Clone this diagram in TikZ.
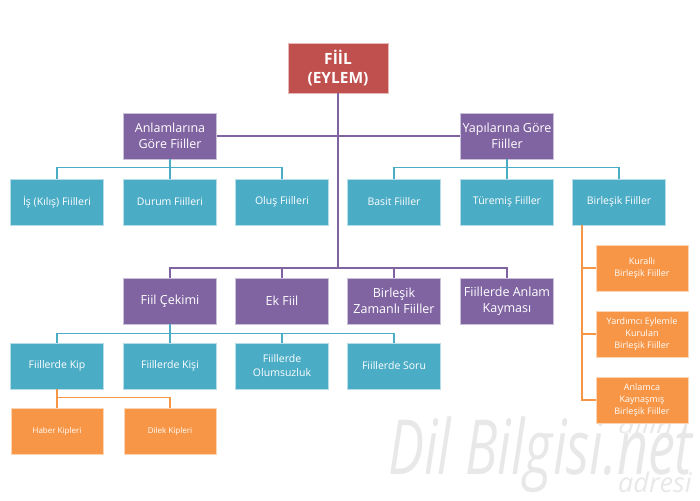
\documentclass[tikz,border=0pt]{standalone}
\usepackage{fontspec}
\setmainfont{Open Sans}
\definecolor{kirmizi}{HTML}{C0504D}
\definecolor{mor}{HTML}{8064A2}
\definecolor{mavi}{HTML}{4BACC6}
\definecolor{turuncu}{HTML}{F79646}
\begin{document}
\begin{tikzpicture}[x=1pt,y=-1pt,
	kutu/.style={minimum width=93pt,minimum height=46pt,inner sep=2pt,align=center,text=white,draw=white!60!#1,line width=0.8pt,fill=#1,font=\fontsize{10.5}{14}\selectfont},
	orta kutu/.style={kutu=mor,font=\fontsize{12.5}{16}\selectfont},
	kok/.style={kutu=kirmizi,minimum width=100pt,minimum height=50pt,font=\fontsize{15.5}{19}\selectfont\bfseries},
	kucuk/.style={kutu=turuncu,minimum width=92pt,font=\fontsize{8}{10}\selectfont},
	yan/.style={kucuk,font=\fontsize{9}{12}\selectfont},
	hat/.style={draw=#1,line width=1.6pt},
	filigran/.style={text=black!9,inner sep=0pt,font=\itshape}]
	\useasboundingbox(0,0)rectangle(700,500);
	% filigran
	\node[filigran,anchor=base west](fil)at(388,474){\fontsize{76}{78}\selectfont\scalebox{0.71}[1]{Dil Bilgisi.net}};
	\node[filigran,anchor=base west](ust)at(618,433){\fontsize{19}{21}\selectfont\scalebox{1.5}[1]{dilin}};
	\node[filigran,anchor=base west](alt)at(618,492){\fontsize{27}{29}\selectfont\scalebox{1.0}[1]{adresi}};
	% kutular
	\node[kok](fiil)at(338,68){FİİL\\(EYLEM)};
	\node[orta kutu](anl)at(170,136){Anlamlarına\\Göre Fiiller};
	\node[orta kutu](yap)at(507,136){Yapılarına Göre\\Fiiller};
	\node[kutu=mavi](is)at(57,202){İş (Kılış) Fiilleri};
	\node[kutu=mavi](durum)at(170,202){Durum Fiilleri};
	\node[kutu=mavi](olus)at(282,202){Oluş Fiilleri};
	\node[kutu=mavi](basit)at(394,202){Basit Fiiller};
	\node[kutu=mavi](tur)at(507,202){Türemiş Fiiller};
	\node[kutu=mavi](bir)at(619,202){Birleşik Fiiller};
	\node[orta kutu](cek)at(170,301){Fiil Çekimi};
	\node[orta kutu](ek)at(282,301){Ek Fiil};
	\node[orta kutu](bz)at(394,301){Birleşik\\Zamanlı Fiiller};
	\node[orta kutu](kay)at(507,301){Fiillerde Anlam\\Kayması};
	\node[kutu=mavi](kip)at(57,366){Fiillerde Kip};
	\node[kutu=mavi](kisi)at(170,366){Fiillerde Kişi};
	\node[kutu=mavi](olum)at(282,366){Fiillerde\\Olumsuzluk};
	\node[kutu=mavi](soru)at(394,366){Fiillerde Soru};
	\node[kucuk](haber)at(57,431){Haber Kipleri};
	\node[kucuk](dilek)at(170,431){Dilek Kipleri};
	\node[yan](kur)at(642,268){Kurallı\\Birleşik Fiiller};
	\node[yan](yard)at(642,334){Yardımcı Eylemle\\Kurulan\\Birleşik Fiiller};
	\node[yan](anlc)at(642,400){Anlamca\\Kaynaşmış\\Birleşik Fiiller};
	\coordinate(orta)at(338,268);
	\coordinate(dikey)at(582,225);
	% baglantilar
	\draw[hat=mor](fiil.south)--(orta);
	\draw[hat=mor](anl.east)--(yap.west);
	\draw[hat=mor](cek.north)|-(orta)-|(kay.north);
	\draw[hat=mor](ek.north)--(ek.north|-orta);
	\draw[hat=mor](bz.north)--(bz.north|-orta);
	\draw[hat=mavi](is.north)--++(0,-11)-|(olus.north);
	\draw[hat=mavi](anl.south)--(durum.north);
	\draw[hat=mavi](basit.north)--++(0,-11)-|(bir.north);
	\draw[hat=mavi](yap.south)--(tur.north);
	\draw[hat=mavi](kip.north)--++(0,-9)-|(soru.north);
	\draw[hat=mavi](cek.south)--(kisi.north);
	\draw[hat=mavi](olum.north)--++(0,-9);
	\draw[hat=turuncu](kip.south)--(haber.north);
	\draw[hat=turuncu](haber.north)--++(0,-10)-|(dilek.north);
	\draw[hat=turuncu](dikey)|-(anlc.west);
	\draw[hat=turuncu](dikey|-kur.west)--(kur.west);
	\draw[hat=turuncu](dikey|-yard.west)--(yard.west);
\end{tikzpicture}
\end{document}
